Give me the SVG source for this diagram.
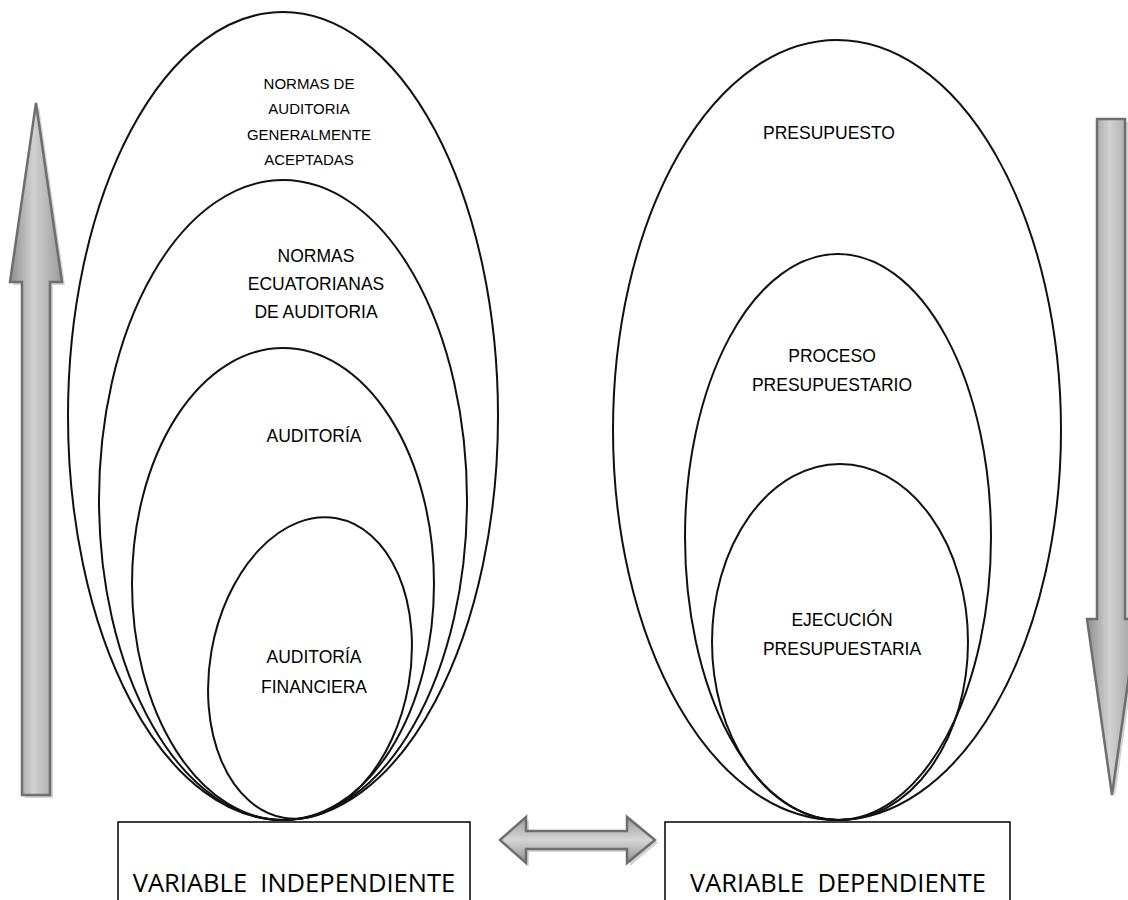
<svg xmlns="http://www.w3.org/2000/svg" width="1128" height="900" viewBox="0 0 1128 900">
  <defs>
    <linearGradient id="gv" x1="0" y1="0" x2="1" y2="0">
      <stop offset="0" stop-color="#8e8e8e"/>
      <stop offset="0.45" stop-color="#d2d2d2"/>
      <stop offset="1" stop-color="#9a9a9a"/>
    </linearGradient>
    <linearGradient id="gh" x1="0" y1="0" x2="0" y2="1">
      <stop offset="0" stop-color="#9a9a9a"/>
      <stop offset="0.5" stop-color="#d6d6d6"/>
      <stop offset="1" stop-color="#8e8e8e"/>
    </linearGradient>
  </defs>
  <style>
    .ring { fill: none; stroke: #111; stroke-width: 2; }
    .lbl { font-family: "Liberation Sans", Arial, sans-serif; font-size: 17.5px; fill: #000; text-anchor: middle; }
    .small { font-size: 15px; }
    .box { fill: #fff; stroke: #000; stroke-width: 1.5; }
    .boxlbl { font-family: "Open Sans", "Liberation Sans", sans-serif; font-size: 25.5px; fill: #000; text-anchor: middle; }
    .arrow { stroke: #6e6e6e; stroke-width: 2.5; stroke-linejoin: miter; }
    .shadow { fill: #d4d4d4; }
  </style>
  <rect width="1128" height="900" fill="#fff"/>

  <!-- side and link arrows -->
  <g id="connectors">
    <g id="arrow-up">
      <path class="shadow" d="M39 106 L65 285 L53 285 L53 798 L25 798 L25 285 L13 285 Z"/>
      <path class="arrow" fill="url(#gv)" d="M36 103 L62 282 L50 282 L50 795 L22 795 L22 282 L10 282 Z"/>
    </g>
    <g id="arrow-down">
      <path class="shadow" d="M1100 122 L1128 122 L1128 622 L1140 622 L1115 798 L1090 622 L1100 622 Z"/>
      <path class="arrow" fill="url(#gv)" d="M1097 119 L1125 119 L1125 619 L1137 619 L1112 795 L1087 619 L1097 619 Z"/>
    </g>
    <g id="arrow-both">
      <path class="shadow" d="M503 843 L529 820 L529 834 L630 834 L630 820 L658 843 L630 866 L630 852 L529 852 L529 866 Z"/>
      <path class="arrow" fill="url(#gh)" d="M500 840 L526 817 L526 831 L627 831 L627 817 L655 840 L627 863 L627 849 L526 849 L526 863 Z"/>
    </g>
  </g>

  <!-- independent variable -->
  <g id="normas-auditoria">
    <ellipse class="ring" cx="283" cy="416" rx="215" ry="404"/>
    <text class="lbl small" x="309" y="89">NORMAS DE</text>
    <text class="lbl small" x="309" y="114">AUDITORIA</text>
    <text class="lbl small" x="309" y="140">GENERALMENTE</text>
    <text class="lbl small" x="309" y="165">ACEPTADAS</text>
  </g>
  <g id="normas-ecuatorianas">
    <ellipse class="ring" cx="283" cy="500" rx="184" ry="320"/>
    <text class="lbl" x="316" y="262">NORMAS</text>
    <text class="lbl" x="316" y="290">ECUATORIANAS</text>
    <text class="lbl" x="316" y="318">DE AUDITORIA</text>
  </g>
  <g id="auditoria">
    <ellipse class="ring" cx="283" cy="584" rx="151" ry="236"/>
    <text class="lbl" x="314" y="442">AUDITORÍA</text>
  </g>
  <g id="auditoria-financiera">
    <ellipse class="ring" cx="310" cy="668" rx="100" ry="152" transform="rotate(10 310 668)"/>
    <text class="lbl" x="314" y="663">AUDITORÍA</text>
    <text class="lbl" x="314" y="693">FINANCIERA</text>
  </g>

  <!-- dependent variable -->
  <g id="presupuesto">
    <ellipse class="ring" cx="837" cy="430" rx="224" ry="390"/>
    <text class="lbl" x="829" y="139">PRESUPUESTO</text>
  </g>
  <g id="proceso-presupuestario">
    <ellipse class="ring" cx="838" cy="537" rx="153" ry="283"/>
    <text class="lbl" x="832" y="362">PROCESO</text>
    <text class="lbl" x="832" y="391">PRESUPUESTARIO</text>
  </g>
  <g id="ejecucion-presupuestaria">
    <ellipse class="ring" cx="840" cy="642" rx="128" ry="178"/>
    <text class="lbl" x="842" y="626">EJECUCIÓN</text>
    <text class="lbl" x="842" y="655">PRESUPUESTARIA</text>
  </g>

  <g id="variable-independiente">
    <rect class="box" x="118" y="822" width="352" height="90"/>
    <text class="boxlbl" x="294" y="892" xml:space="preserve">VARIABLE  INDEPENDIENTE</text>
  </g>
  <g id="variable-dependiente">
    <rect class="box" x="665" y="822" width="345" height="90"/>
    <text class="boxlbl" x="838" y="892" xml:space="preserve">VARIABLE  DEPENDIENTE</text>
  </g>
</svg>
